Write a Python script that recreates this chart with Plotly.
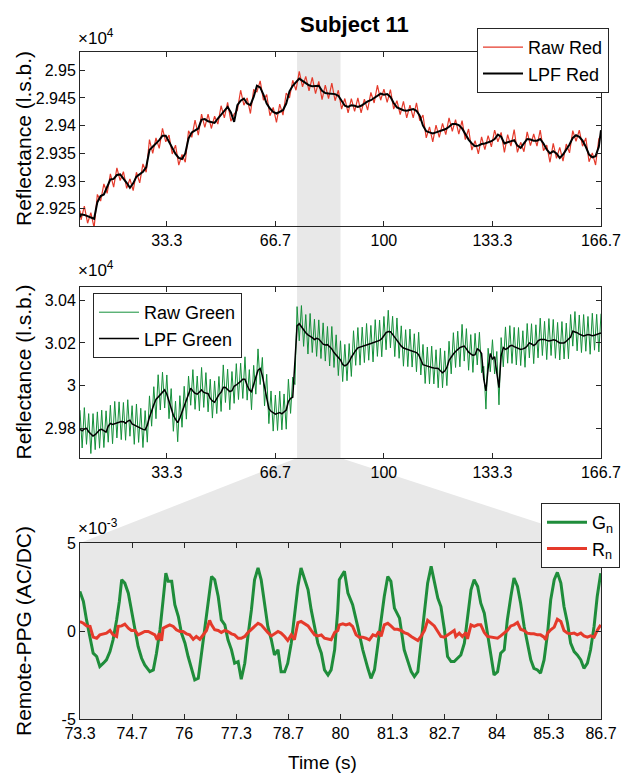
import numpy as np
import plotly.graph_objects as go

W, H = 621, 775
FONT = "Arial, Liberation Sans, Helvetica, sans-serif"

# ---------------- data ----------------
# Top panel: red channel reflectance (raw and low-pass filtered)
red_t = [6.667] + list(range(7, 167)) + [166.667]
red_lpf = [29235, 29240, 29239, 29237, 29235, 29232, 29262, 29273, 29276, 29290,
           29303, 29304, 29311, 29312, 29305, 29297, 29288, 29296, 29308, 29313,
           29317, 29325, 29356, 29362, 29368, 29374, 29382, 29382, 29371, 29359,
           29349, 29342, 29340, 29350, 29377, 29388, 29391, 29395, 29411, 29412,
           29408, 29406, 29405, 29413, 29420, 29427, 29434, 29424, 29407, 29437,
           29445, 29449, 29440, 29437, 29452, 29472, 29469, 29456, 29440, 29431,
           29425, 29422, 29425, 29428, 29440, 29462, 29472, 29479, 29485, 29481,
           29477, 29473, 29471, 29471, 29472, 29463, 29459, 29458, 29458, 29457,
           29454, 29445, 29436, 29434, 29437, 29436, 29434, 29436, 29440, 29444,
           29446, 29450, 29454, 29458, 29456, 29457, 29452, 29441, 29433, 29430,
           29428, 29427, 29429, 29430, 29427, 29418, 29400, 29390, 29388, 29386,
           29388, 29390, 29392, 29394, 29398, 29403, 29403, 29401, 29395, 29384,
           29375, 29368, 29363, 29364, 29367, 29368, 29370, 29372, 29376, 29384,
           29380, 29368, 29370, 29372, 29374, 29364, 29360, 29368, 29376, 29375,
           29373, 29373, 29376, 29368, 29357, 29350, 29354, 29350, 29342, 29348,
           29357, 29366, 29378, 29383, 29380, 29373, 29362, 29348, 29343, 29345,
           29362, 29392]
red_raw = [29247, 29230, 29255, 29224, 29243, 29216, 29276, 29264, 29295, 29278,
           29313, 29289, 29324, 29301, 29317, 29287, 29304, 29283, 29316, 29297,
           29331, 29316, 29375, 29350, 29378, 29359, 29395, 29371, 29383, 29349,
           29365, 29329, 29348, 29334, 29391, 29379, 29410, 29383, 29421, 29397,
           29421, 29395, 29417, 29403, 29436, 29414, 29442, 29408, 29421, 29428,
           29464, 29437, 29450, 29422, 29465, 29461, 29481, 29446, 29456, 29418,
           29433, 29406, 29439, 29419, 29459, 29450, 29482, 29464, 29498, 29470,
           29489, 29463, 29487, 29458, 29480, 29447, 29473, 29449, 29477, 29445,
           29464, 29430, 29449, 29423, 29449, 29426, 29450, 29423, 29448, 29428,
           29460, 29441, 29473, 29446, 29466, 29442, 29465, 29430, 29445, 29420,
           29444, 29414, 29437, 29414, 29441, 29409, 29419, 29378, 29398, 29371,
           29401, 29379, 29404, 29384, 29414, 29390, 29411, 29385, 29409, 29375,
           29394, 29356, 29373, 29349, 29380, 29357, 29382, 29362, 29392, 29371,
           29388, 29352, 29384, 29363, 29393, 29352, 29370, 29353, 29389, 29364,
           29385, 29363, 29392, 29355, 29365, 29334, 29368, 29341, 29361, 29336,
           29367, 29351, 29391, 29372, 29392, 29363, 29378, 29335, 29351, 29329,
           29376, 29383]

# Middle panel: green channel reflectance (sampled every 2/3 s)
green_t = np.linspace(6.667, 166.667, 241)
green_lpf = [29795, 29788, 29797, 29800, 29784, 29772, 29764, 29770, 29782, 29792,
             29795, 29790, 29782, 29810, 29823, 29818, 29821, 29825, 29829, 29832,
             29831, 29824, 29834, 29838, 29821, 29815, 29809, 29804, 29799, 29795,
             29793, 29815, 29852, 29885, 29910, 29935, 29946, 29956, 29968, 29980,
             29960, 29925, 29886, 29861, 29842, 29827, 29848, 29875, 29902, 29928,
             29955, 29988, 29975, 29964, 29960, 29972, 29980, 29968, 29966, 29962,
             29940, 29928, 29922, 29944, 29958, 29969, 29992, 29991, 29982, 29972,
             29976, 29997, 30003, 30010, 30020, 30030, 30030, 30002, 29980, 29972,
             30005, 30040, 30072, 30080, 30047, 29995, 29948, 29892, 29880, 29872,
             29866, 29870, 29874, 29868, 29876, 29886, 29925, 29940, 29945, 30090,
             30280, 30290, 30275, 30259, 30248, 30238, 30233, 30225, 30216, 30222,
             30218, 30207, 30194, 30190, 30192, 30182, 30172, 30155, 30143, 30132,
             30120, 30099, 30093, 30098, 30112, 30133, 30152, 30165, 30177, 30181,
             30184, 30188, 30191, 30194, 30197, 30201, 30204, 30207, 30212, 30220,
             30234, 30248, 30253, 30252, 30240, 30226, 30212, 30198, 30185, 30176,
             30172, 30169, 30165, 30162, 30158, 30155, 30145, 30120, 30098, 30095,
             30091, 30088, 30085, 30083, 30083, 30080, 30070, 30060, 30068, 30085,
             30118, 30135, 30148, 30160, 30170, 30178, 30182, 30185, 30172, 30157,
             30149, 30142, 30145, 30172, 30165, 30150, 30030, 29975, 30080, 30150,
             30125, 30135, 30060, 29990, 30140, 30178, 30170, 30175, 30186, 30189,
             30183, 30177, 30172, 30169, 30172, 30176, 30186, 30200, 30195, 30188,
             30195, 30210, 30216, 30216, 30216, 30212, 30209, 30211, 30215, 30213,
             30206, 30200, 30200, 30200, 30208, 30216, 30228, 30255, 30252, 30248,
             30241, 30235, 30233, 30236, 30239, 30237, 30234, 30236, 30239, 30243,
             30247]
green_raw = [29885, 29708, 29897, 29725, 29869, 29682, 29869, 29700, 29877, 29707,
             29885, 29710, 29882, 29735, 29908, 29728, 29926, 29755, 29924, 29747,
             29921, 29744, 29934, 29763, 29906, 29725, 29914, 29734, 29894, 29710,
             29883, 29735, 29952, 29810, 29995, 29845, 30051, 29886, 30063, 29895,
             30050, 29845, 29986, 29786, 29927, 29737, 29953, 29805, 29997, 29843,
             30045, 29908, 30075, 29889, 30045, 29882, 30085, 29898, 30061, 29877,
             30030, 29848, 30022, 29869, 30043, 29879, 30097, 29921, 30077, 29887,
             30066, 29917, 30103, 29935, 30105, 29940, 30135, 29932, 30075, 29887,
             30095, 29960, 30172, 30005, 30132, 29905, 30053, 29822, 29975, 29787,
             29956, 29790, 29974, 29793, 29961, 29796, 30030, 29870, 30040, 30005,
             30370, 30210, 30375, 30184, 30333, 30148, 30338, 30155, 30311, 30137,
             30308, 30127, 30294, 30115, 30277, 30092, 30277, 30085, 30238, 30047,
             30210, 30019, 30193, 30023, 30197, 30043, 30257, 30095, 30272, 30096,
             30274, 30108, 30291, 30119, 30282, 30111, 30309, 30137, 30307, 30135,
             30324, 30168, 30353, 30177, 30325, 30136, 30317, 30128, 30280, 30091,
             30262, 30089, 30265, 30087, 30243, 30065, 30250, 30050, 30193, 30010,
             30181, 30008, 30185, 30008, 30168, 29990, 30175, 29990, 30163, 30000,
             30208, 30055, 30248, 30085, 30255, 30088, 30287, 30115, 30267, 30072,
             30239, 30062, 30245, 30097, 30250, 30060, 30090, 29890, 30175, 30065,
             30215, 30055, 30160, 29910, 30225, 30088, 30275, 30105, 30281, 30104,
             30273, 30097, 30272, 30094, 30257, 30086, 30291, 30130, 30290, 30103,
             30285, 30130, 30316, 30141, 30301, 30122, 30314, 30141, 30310, 30128,
             30296, 30120, 30300, 30125, 30293, 30126, 30333, 30185, 30347, 30163,
             30331, 30155, 30333, 30161, 30324, 30147, 30339, 30166, 30334, 30158,
             30337]

# Bottom panel: normalised remote-PPG (x1e-3) in the zoomed window
gn_t = [73.33, 73.42, 73.50, 73.59, 73.67, 73.76, 73.84, 73.93, 74.01, 74.10,
        74.18, 74.27, 74.34, 74.40, 74.48, 74.57, 74.65, 74.74, 74.82, 74.91,
        74.99, 75.12, 75.21, 75.29, 75.38, 75.46, 75.53, 75.59, 75.68, 75.76,
        75.85, 75.93, 76.02, 76.10, 76.19, 76.27, 76.36, 76.44, 76.53, 76.61,
        76.70, 76.78, 76.87, 76.95, 77.04, 77.12, 77.21, 77.29, 77.38, 77.46,
        77.55, 77.63, 77.72, 77.80, 77.89, 77.97, 78.06, 78.14, 78.23, 78.31,
        78.40, 78.48, 78.57, 78.65, 78.74, 78.82, 78.91, 78.99, 79.08, 79.17,
        79.25, 79.34, 79.42, 79.51, 79.59, 79.68, 79.76, 79.85, 79.93,
        79.97, 80.10, 80.19, 80.31, 80.44, 80.57, 80.70, 80.78, 80.87, 80.95,
        81.04, 81.12, 81.21, 81.29, 81.38, 81.51, 81.63, 81.72, 81.81, 81.89,
        81.98, 82.06, 82.15, 82.23, 82.32, 82.40, 82.49, 82.57, 82.66, 82.74,
        82.83, 82.91, 83.00, 83.08, 83.17, 83.25, 83.34, 83.42, 83.51, 83.59,
        83.68, 83.76, 83.85, 83.93, 84.02, 84.10, 84.19, 84.27, 84.36, 84.44,
        84.53, 84.61, 84.70, 84.78, 84.87, 84.95, 85.04, 85.12, 85.21, 85.30,
        85.38, 85.47, 85.55, 85.64, 85.72, 85.81, 85.89, 85.98, 86.06, 86.15,
        86.23, 86.32, 86.40, 86.49, 86.57, 86.66]
gn_v = [2.25, 1.68, 0.63, -0.31, -1.26, -1.45, -2.02, -1.83, -1.64, -1.17,
        -0.50, 0.63, 1.68, 2.91, 2.72, 2.15, 1.20, 0.07, -0.88, -1.55,
        -1.93, -2.31, -2.21, -1.26, 0.07, 1.77, 3.29, 2.82, 2.82, 1.49,
        0.82, -0.12, -0.69, -1.45, -2.12, -2.78, -2.69, -1.26, 0.07, 1.77,
        3.10, 2.91, 1.96, 0.63, 0.35, -0.50, -1.07, -1.83, -1.74, -2.74,
        -1.83, -0.31, 1.20, 2.91, 3.58, 2.91, 1.39, 0.26, -0.50, -1.36,
        -1.07, -2.31, -2.31, -1.83, -0.69, 0.82, 2.53, 3.58, 2.91, 2.34,
        1.20, 0.26, -0.69, -1.26, -2.21, -2.50, -2.21, -1.07, 1.20,
        2.91, 3.39, 2.15, 1.49, 0.26, -1.07, -2.12, -2.69, -2.21, -0.88,
        0.63, 1.96, 3.10, 2.82, 1.30, 0.73, -1.07, -1.64, -2.31, -2.59,
        -2.31, -0.69, 1.20, 2.72, 3.67, 2.72, 1.87, 1.39, 0.07, -1.45,
        -1.74, -1.74, -1.55, -1.36, -0.69, 0.82, 2.34, 2.91, 2.53, 1.58,
        1.01, -0.12, -1.26, -2.50, -2.31, -1.26, -1.07, 0.63, 1.96, 3.01,
        2.53, 1.58, 0.26, -0.69, -1.64, -2.12, -2.21, -2.40, -1.64, -0.12,
        1.77, 2.91, 3.33, 2.72, 1.39, 0.44, -0.69, -1.17, -1.36, -1.64,
        -2.12, -1.83, -1.07, 0.26, 1.96, 3.29]
rn_t = [73.33, 73.42, 73.50, 73.59, 73.67, 73.76, 73.84, 73.93, 74.01, 74.10,
        74.18, 74.27, 74.31, 74.40, 74.48, 74.57, 74.65, 74.74, 74.82, 74.91,
        74.99, 75.08, 75.16, 75.25, 75.31, 75.36, 75.42, 75.46, 75.55, 75.63,
        75.72, 75.80, 75.89, 75.97, 76.06, 76.14, 76.23, 76.31, 76.40, 76.48,
        76.57, 76.65, 76.70, 76.78, 76.87, 76.95, 77.04, 77.12, 77.21, 77.29,
        77.38, 77.46, 77.55, 77.63, 77.72, 77.80, 77.89, 77.97, 78.06, 78.14,
        78.23, 78.31, 78.40, 78.48, 78.57, 78.65, 78.74, 78.82, 78.91, 78.99,
        79.08, 79.17, 79.25, 79.34, 79.42, 79.51, 79.59, 79.68, 79.76, 79.85,
        79.93, 79.97, 80.06, 80.14, 80.23, 80.31, 80.40, 80.48, 80.57, 80.65,
        80.74, 80.83, 80.91, 80.98, 81.04, 81.12, 81.21, 81.29, 81.38, 81.46,
        81.55, 81.63, 81.72, 81.81, 81.89, 81.98, 82.06, 82.15, 82.23, 82.32,
        82.40, 82.49, 82.57, 82.66, 82.74, 82.83, 82.91, 82.95, 83.04, 83.12,
        83.21, 83.25, 83.34, 83.42, 83.51, 83.59, 83.68, 83.76, 83.85, 83.93,
        84.02, 84.10, 84.19, 84.27, 84.36, 84.44, 84.53, 84.61, 84.70, 84.78,
        84.87, 84.95, 85.04, 85.12, 85.21, 85.25, 85.30, 85.38, 85.47, 85.55,
        85.64, 85.72, 85.81, 85.89, 85.98, 86.06, 86.15, 86.23, 86.32, 86.40,
        86.49, 86.57, 86.66]
rn_v = [0.54, 0.44, 0.29, 0.26, -0.35, -0.41, -0.22, -0.16, -0.12, 0.03,
        -0.22, -0.31, 0.26, 0.29, 0.39, 0.16, 0.03, 0.03, -0.22, -0.12,
        -0.03, -0.03, -0.12, -0.22, -0.50, -0.12, -0.56, 0.16, 0.26, 0.35,
        0.26, 0.07, -0.03, -0.03, -0.16, -0.22, -0.47, -0.31, -0.47, -0.22,
        0.03, 0.60, 0.35, 0.07, 0.03, -0.09, 0.03, -0.03, -0.16, -0.22,
        -0.41, -0.41, -0.31, -0.09, 0.10, 0.29, 0.44, 0.35, 0.10, -0.09,
        -0.28, -0.16, -0.03, -0.12, -0.31, -0.54, -0.22, -0.50, 0.48, 0.54,
        0.41, 0.29, 0.03, -0.22, -0.28, -0.22, -0.41, -0.47, -0.50, -0.09,
        0.03,
        0.35, 0.41, 0.35, 0.41, 0.26, -0.22, -0.35, -0.35, -0.41, -0.50,
        -0.22, -0.28, -0.03, -0.31, 0.35, 0.44, 0.29, 0.10, 0.10, 0.03,
        -0.09, -0.16, -0.31, -0.41, -0.54, -0.31, 0.03, 0.60, 0.44, 0.29,
        -0.03, -0.31, -0.35, -0.22, -0.09, 0.03, -0.31, -0.12, -0.31, -0.09,
        -0.45, 0.35, 0.26, 0.35, 0.35, -0.09, -0.31, -0.35, -0.41, -0.41,
        -0.28, -0.09, 0.03, 0.29, 0.35, 0.48, 0.10, 0.03, -0.12, -0.16,
        -0.16, -0.22, -0.22, -0.35, -0.50, -0.12, 0.07, 0.22, 0.67, 0.54,
        0.03, -0.12, -0.16, -0.12, -0.22, -0.12, -0.28, -0.35, -0.28, -0.35,
        0.03, 0.35]

# tick labels
full_ticks = [33.333, 66.667, 100, 133.333, 166.66]
full_ticktext = ["33.3", "66.7", "100", "133.3", "166.7"]
zoom_ticks = [73.333 + k * 4 / 3 for k in range(11)]
zoom_ticktext = ["73.3", "74.7", "76", "77.3", "78.7", "80", "81.3", "82.7", "84", "85.3", "86.7"]
red_yticks = [29250, 29300, 29350, 29400, 29450, 29500]
red_yticktext = ["2.925", "2.93", "2.935", "2.94", "2.945", "2.95"]
green_yticks = [29800, 30000, 30200, 30400]
green_yticktext = ["2.98", "3", "3.02", "3.04"]
ppg_yticks = [-5, 0, 5]
ppg_yticktext = ["-5", "0", "5"]

assert len(red_t) == len(red_lpf) == len(red_raw)
assert len(green_t) == len(green_lpf) == len(green_raw)
assert len(gn_t) == len(gn_v) and len(rn_t) == len(rn_v)

# ---------------- layout helpers ----------------
def px(x):
    return x / W

def py(y):
    return 1 - y / H

XDOM = [px(80), px(601)]
Y1DOM = [py(226), py(52)]
Y2DOM = [py(458), py(287)]
Y3DOM = [py(719), py(543)]
XR = [6.667, 166.667]
ZR = [73.333, 86.667]

def xpaper(v):
    return XDOM[0] + (v - XR[0]) / (XR[1] - XR[0]) * (XDOM[1] - XDOM[0])

RED = "#e53a2b"
GREEN_RAW = "#14903a"
GREEN = "#1f8d3b"
SHADE = "#e8e8e8"
AXC = "#262626"

fig = go.Figure()
fig.add_trace(go.Scatter(x=red_t, y=red_raw, mode="lines", name="Raw Red",
                         line=dict(color=RED, width=1.2), xaxis="x", yaxis="y", legend="legend"))
fig.add_trace(go.Scatter(x=red_t, y=red_lpf, mode="lines", name="LPF Red",
                         line=dict(color="black", width=2), xaxis="x", yaxis="y", legend="legend"))
fig.add_trace(go.Scatter(x=green_t, y=green_raw, mode="lines", name="Raw Green",
                         line=dict(color=GREEN_RAW, width=1), xaxis="x2", yaxis="y2", legend="legend2"))
fig.add_trace(go.Scatter(x=green_t, y=green_lpf, mode="lines", name="LPF Green",
                         line=dict(color="black", width=1.5), xaxis="x2", yaxis="y2", legend="legend2"))
fig.add_trace(go.Scatter(x=gn_t, y=gn_v, mode="lines", name="G<sub>n</sub>",
                         line=dict(color=GREEN, width=3), xaxis="x3", yaxis="y3", legend="legend3"))
fig.add_trace(go.Scatter(x=rn_t, y=rn_v, mode="lines", name="R<sub>n</sub>",
                         line=dict(color=RED, width=3), xaxis="x3", yaxis="y3", legend="legend3"))

axc = dict(showline=True, linecolor=AXC, linewidth=1, mirror="allticks", ticks="inside",
           ticklen=5, tickcolor=AXC, tickwidth=1, showgrid=False, zeroline=False,
           automargin=False, ticklabeloverflow="allow",
           tickfont=dict(size=16, color="black", family=FONT))

shapes = [
    # highlighted window across the two upper panels
    dict(type="rect", xref="paper", yref="paper", x0=xpaper(ZR[0]), x1=xpaper(ZR[1]),
         y0=Y2DOM[0], y1=Y1DOM[1], fillcolor=SHADE, line=dict(width=0), layer="below"),
    # expanding wedge down to the zoom panel
    dict(type="path", xref="paper", yref="paper",
         path=f"M {xpaper(ZR[0])},{Y2DOM[0]} L {xpaper(ZR[1])},{Y2DOM[0]} "
              f"L {XDOM[1]},{Y3DOM[1]} L {XDOM[0]},{Y3DOM[1]} Z",
         fillcolor=SHADE, line=dict(width=0), layer="below"),
    # zoom panel background
    dict(type="rect", xref="paper", yref="paper", x0=XDOM[0], x1=XDOM[1],
         y0=Y3DOM[0], y1=Y3DOM[1], fillcolor=SHADE, line=dict(width=0), layer="below"),
]

legend_common = dict(bgcolor="white", bordercolor=AXC, borderwidth=1,
                     font=dict(size=18, color="black", family=FONT), itemwidth=40,
                     yanchor="top", tracegroupgap=0)

annotations = [
    dict(text="<b>Subject 11</b>", x=px(354), y=py(24), xref="paper", yref="paper",
         showarrow=False, xanchor="center", yanchor="middle", font=dict(size=22, color="black")),
    dict(text="×10<sup>4</sup>", x=px(76), y=py(50), xref="paper", yref="paper",
         showarrow=False, xanchor="left", yanchor="bottom", font=dict(size=17, color="black")),
    dict(text="×10<sup>4</sup>", x=px(76), y=py(282), xref="paper", yref="paper",
         showarrow=False, xanchor="left", yanchor="bottom", font=dict(size=17, color="black")),
    dict(text="×10<sup>-3</sup>", x=px(76), y=py(540), xref="paper", yref="paper",
         showarrow=False, xanchor="left", yanchor="bottom", font=dict(size=17, color="black")),
    dict(text="Reflectance (l.s.b.)", x=px(23), y=(Y1DOM[0] + Y1DOM[1]) / 2, xref="paper", yref="paper",
         showarrow=False, textangle=-90, xanchor="center", yanchor="middle", font=dict(size=21, color="black")),
    dict(text="Reflectance (l.s.b.)", x=px(23), y=(Y2DOM[0] + Y2DOM[1]) / 2, xref="paper", yref="paper",
         showarrow=False, textangle=-90, xanchor="center", yanchor="middle", font=dict(size=21, color="black")),
    dict(text="Remote-PPG (AC/DC)", x=px(23), y=(Y3DOM[0] + Y3DOM[1]) / 2, xref="paper", yref="paper",
         showarrow=False, textangle=-90, xanchor="center", yanchor="middle", font=dict(size=21, color="black")),
    dict(text="Time (s)", x=px(322), y=py(762), xref="paper", yref="paper",
         showarrow=False, xanchor="center", yanchor="middle", font=dict(size=19, color="black")),
]

fig.update_layout(
    width=W, height=H, margin=dict(l=0, r=0, t=0, b=0, autoexpand=False),
    paper_bgcolor="white", plot_bgcolor="rgba(0,0,0,0)",
    font=dict(family=FONT, color="black"),
    xaxis=dict(axc, domain=XDOM, anchor="y", range=XR, tickvals=full_ticks, ticktext=full_ticktext),
    yaxis=dict(axc, domain=Y1DOM, anchor="x", range=[29219, 29533], tickvals=red_yticks, ticktext=red_yticktext),
    xaxis2=dict(axc, domain=XDOM, anchor="y2", range=XR, tickvals=full_ticks, ticktext=full_ticktext),
    yaxis2=dict(axc, domain=Y2DOM, anchor="x2", range=[29661, 30462], tickvals=green_yticks, ticktext=green_yticktext),
    xaxis3=dict(axc, domain=XDOM, anchor="y3", range=ZR, tickvals=zoom_ticks, ticktext=zoom_ticktext),
    yaxis3=dict(axc, domain=Y3DOM, anchor="x3", range=[-5, 5], tickvals=ppg_yticks, ticktext=ppg_yticktext),
    legend=dict(legend_common, x=px(609), xanchor="right", y=py(28)),
    legend2=dict(legend_common, x=px(93), xanchor="left", y=py(293)),
    legend3=dict(legend_common, x=px(620), xanchor="right", y=py(503)),
    shapes=shapes,
    annotations=annotations,
    showlegend=True,
)

fig.write_html("out.html")
